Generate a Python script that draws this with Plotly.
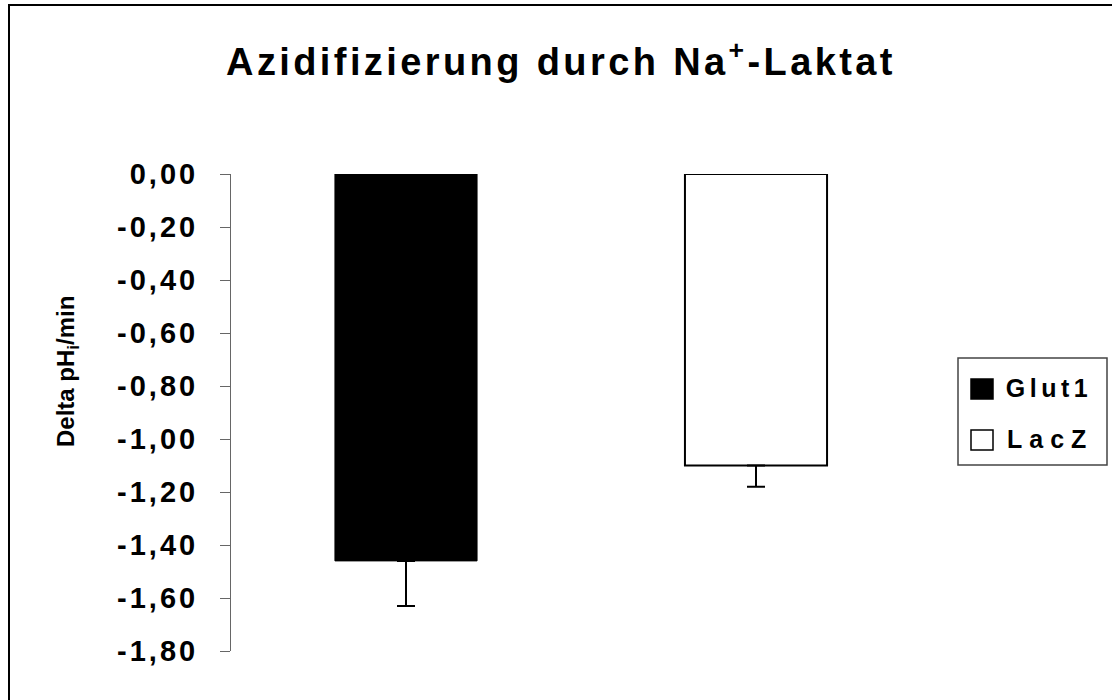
import plotly.graph_objects as go

# ---------------- data ----------------
categories = ["Glut1", "LacZ"]
values = [-1.46, -1.10]
errors_minus = [0.17, 0.08]
tick_values = [0.0, -0.2, -0.4, -0.6, -0.8, -1.0, -1.2, -1.4, -1.6, -1.8]
tick_labels = ["0,00", "-0,20", "-0,40", "-0,60", "-0,80", "-1,00",
               "-1,20", "-1,40", "-1,60", "-1,80"]
title_text = "Azidifizierung durch Na<sup>+</sup>-Laktat"
y_title_text = "Delta pH<sub>i</sub>/min"

# ---------------- styles ----------------
fills = ["black", "white"]
outline_widths = [1, 2]
FONT = "Liberation Sans, Arial, sans-serif"

W, H = 1112, 700
ML, MR, MT, MB = 231, 181, 174, 49
PW, PH = W - ML - MR, H - MT - MB


def px(xp):
    return (xp - ML) / PW


def py(yp):
    return (H - MB - yp) / PH


fig = go.Figure()
for cat, val, err, fc, lw in zip(categories, values, errors_minus, fills, outline_widths):
    fig.add_trace(go.Bar(
        x=[cat], y=[val], name=cat, width=0.406,
        marker=dict(color=fc, line=dict(color="black", width=lw)),
        error_y=dict(type="data", symmetric=False, array=[0], arrayminus=[err],
                     color="black", thickness=2, width=9),
        showlegend=False,
    ))

shapes = [
    # outer frame
    dict(type="rect", xref="paper", yref="paper", x0=px(9), x1=px(1125),
         y0=py(715), y1=py(5), line=dict(color="black", width=2)),
    # legend box
    dict(type="rect", xref="paper", yref="paper", x0=px(958), x1=px(1107),
         y0=py(465), y1=py(358), line=dict(color="#444444", width=1.5)),
]
annotations = [
    dict(text=y_title_text, xref="paper", yref="paper", x=px(67), y=py(372),
         textangle=-90, showarrow=False, xanchor="center", yanchor="middle",
         font=dict(family=FONT, size=24, color="black", weight="bold")),
]
row_centers = [389, 440]
text_centers = [1049, 1050]
for cat, fc, yc, xc in zip(categories, fills, row_centers, text_centers):
    shapes.append(dict(type="rect", xref="paper", yref="paper",
                       x0=px(971), x1=px(993), y0=py(yc + 10), y1=py(yc - 10),
                       fillcolor=fc, line=dict(color="black", width=1.5)))
    annotations.append(dict(text=cat, xref="paper", yref="paper",
                            x=px(xc), y=py(yc - 1), xanchor="center", yanchor="middle",
                            showarrow=False,
                            font=dict(family=FONT, size=25, color="black", weight="bold")))

fig.update_layout(
    width=W, height=H,
    margin=dict(l=ML, r=MR, t=MT, b=MB, pad=0),
    paper_bgcolor="white", plot_bgcolor="white",
    barmode="overlay",
    title=dict(text=title_text, x=561 / W, xref="container", xanchor="center",
               y=1 - 62 / H, yref="container", yanchor="middle",
               font=dict(family=FONT, size=38, color="black", weight="bold")),
    xaxis=dict(range=[-0.5, 1.5], showticklabels=False, showline=False,
               showgrid=False, zeroline=False, ticks=""),
    yaxis=dict(range=[-1.8, 0], tickvals=tick_values, ticktext=tick_labels,
               ticks="outside", ticklen=10, tickcolor="#666666", tickwidth=1,
               showline=True, linecolor="#666666", linewidth=1,
               showgrid=False, zeroline=False, ticklabelstandoff=16,
               tickfont=dict(family=FONT, size=29, color="black", weight="bold")),
    shapes=shapes,
    annotations=annotations,
)

css = """
html,body{margin:0;padding:0;overflow:hidden}
.gtitle{letter-spacing:3.4px}
.ytick text{letter-spacing:3px}
.annotation[data-index="1"] text{letter-spacing:4.5px}
.annotation[data-index="2"] text{letter-spacing:7px}
"""
post = "var s=document.createElement('style');s.textContent=`" + css + "`;document.head.appendChild(s);"

fig.write_html("out.html", config={"displayModeBar": False}, post_script=post)
